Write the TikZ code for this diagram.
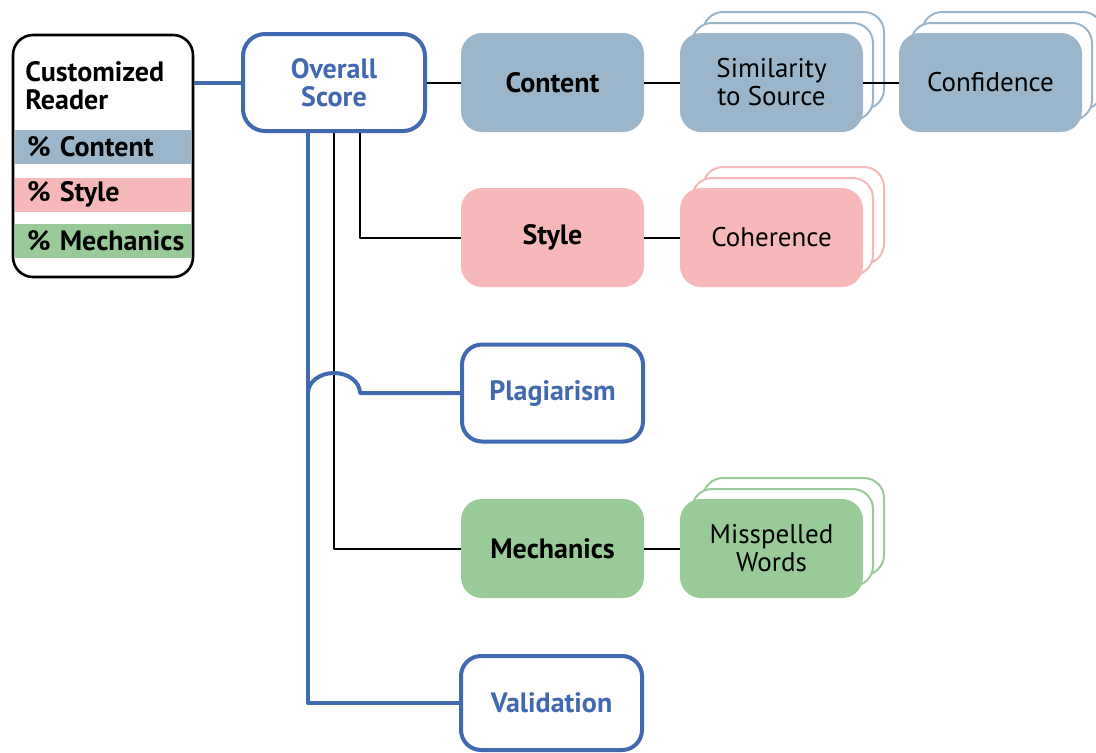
\documentclass[tikz,border=0pt]{standalone}
\usepackage{fontspec}
\setmainfont{PT Sans}
\usetikzlibrary{shadows}
\definecolor{scoreblue}{RGB}{65,105,176}
\definecolor{contentc}{RGB}{155,182,203}
\definecolor{stylec}{RGB}{247,184,185}
\definecolor{mechc}{RGB}{152,203,152}
\begin{document}
\begin{tikzpicture}[x=0.5pt,y=-0.5pt,line join=round,
  font=\fontsize{13.5}{14}\selectfont,
  boldtext/.style={font=\fontsize{14}{14}\selectfont\bfseries},
  box/.style={rounded corners=10pt,minimum width=90.5pt,minimum height=48.5pt,align=center,inner sep=0pt},
  catbox/.style={box,line width=1pt,boldtext},
  subbox/.style={box,line width=1pt,
    copy shadow={shadow xshift=11pt,shadow yshift=11pt,fill=white,draw=#1},
    copy shadow={shadow xshift=5.5pt,shadow yshift=5.5pt,fill=white,draw=#1},
    fill=#1,draw=#1},
  bluebox/.style={box,draw=scoreblue,line width=2pt,fill=white,text=scoreblue,boldtext},
  pctbar/.style={minimum width=88pt,minimum height=17pt,text width=76pt,inner xsep=6pt,inner ysep=0pt,align=left,boldtext},
  blueline/.style={draw=scoreblue,line width=2pt},
  blackline/.style={draw=black,line width=1pt}]
  \useasboundingbox (0,0) rectangle (1096,752);
  \clip (0,0) rectangle (1096,752);
  % reader box with its weights
  \node[draw,line width=1.3pt,rounded corners=10pt,fill=white,minimum width=90pt,minimum height=121pt] (reader) at (103,156) {};
  \node[anchor=west,align=left,inner sep=0pt,boldtext] (title) at (25,86) {Customized\\Reader};
  \foreach \nm/\y/\col/\txt in {pcontent/147/contentc/Content,pstyle/194.5/stylec/Style,pmech/240.5/mechc/Mechanics}{
    \node[pctbar,fill=\col] (\nm) at (103,\y) {\mbox{\% \txt}};
  }
  \node[bluebox,minimum width=91pt,rounded corners=11pt] (overall) at (334,82.5) {Overall\\Score};
  % categories
  \foreach \nm/\pos/\col/\txt in {content/{552.5,82.5}/contentc/Content,style/{552.5,237.5}/stylec/Style,mechanics/{552.5,548.5}/mechc/Mechanics}{
    \node[catbox,fill=\col,draw=\col] (\nm) at (\pos) {\txt};
  }
  \foreach \nm/\pos/\col/\txt in {similarity/{771.5,82.5}/contentc/{Similarity\\to Source},confidence/{990.5,82.5}/contentc/Confidence,coherence/{771.5,237.5}/stylec/Coherence,misspelled/{771.5,548.5}/mechc/{Misspelled\\Words}}{
    \node[subbox=\col] (\nm) at (\pos) {\txt};
  }
  \node[bluebox] (plagiarism) at (552.5,393) {Plagiarism};
  \node[bluebox,minimum height=47pt] (validation) at (551.5,703) {Validation};
  % connectors
  \draw[blueline] (overall.west -| reader.east) -- (overall.west);
  \draw[blackline] (overall.east) -- (content.west);
  \draw[blackline] (content.east) -- (similarity.west);
  \draw[blackline] (similarity.east) -- (confidence.west);
  \draw[blackline] (style.east) -- (coherence.west);
  \draw[blackline] (mechanics.east) -- (misspelled.west);
  \coordinate (vleft) at ([xshift=-13pt]overall.south);
  \coordinate (vright) at ([xshift=13pt]overall.south);
  \draw[blackline] (vright) |- (style.west);
  \draw[blackline] (overall.south) |- (mechanics.west);
  \draw[blueline] (vleft) |- (validation.west);
  \draw[blueline] (vleft |- plagiarism.west) arc[start angle=180,end angle=0,x radius=13pt,y radius=10pt] -- (plagiarism.west);
\end{tikzpicture}
\end{document}
